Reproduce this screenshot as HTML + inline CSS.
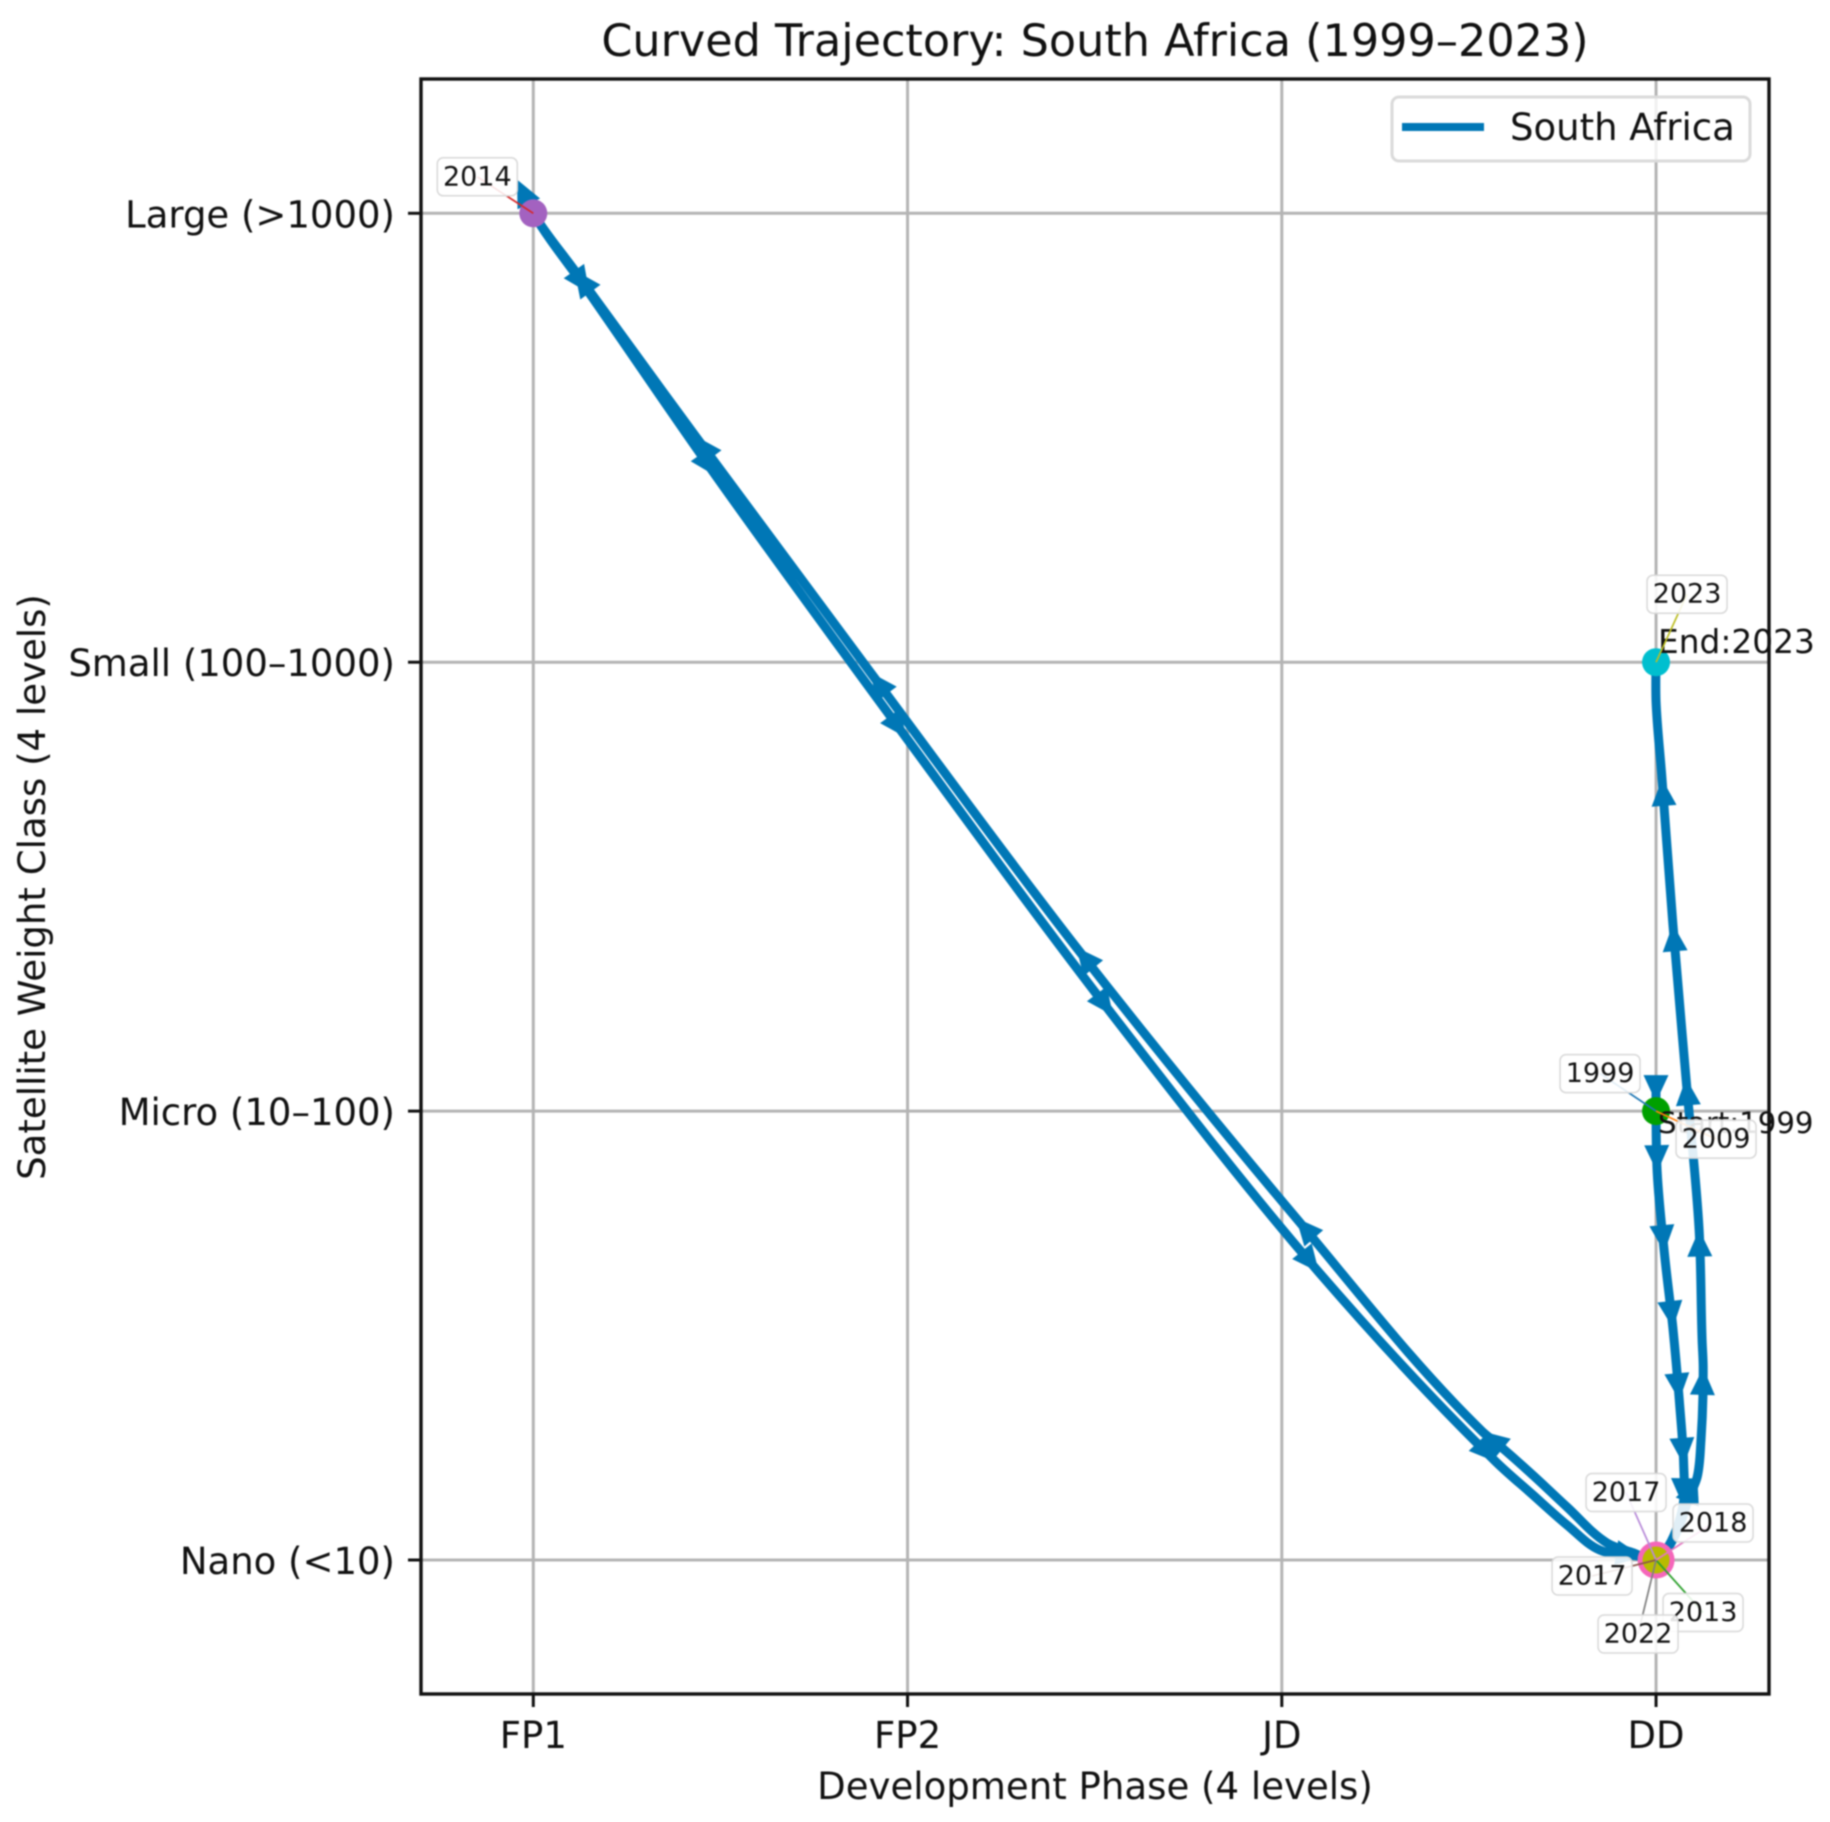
<!DOCTYPE html>
<html lang="en">
<head>
<meta charset="utf-8">
<title>Curved Trajectory: South Africa (1999–2023)</title>
<style>
html,body{margin:0;padding:0;background:#fff;}
body{width:1830px;height:1822px;overflow:hidden;}
svg{display:block;filter:blur(0.8px);}
text{font-family:"DejaVu Sans","Liberation Sans",sans-serif;fill:#111;}
</style>
</head>
<body>
<svg id="chart" xmlns="http://www.w3.org/2000/svg" width="1830" height="1822" viewBox="0 0 1830 1822"></svg>
<script>
// Axis categories
var phaseCategories = ["FP1", "FP2", "JD", "DD"];
var weightCategories = ["Nano (<10)", "Micro (10–100)", "Small (100–1000)", "Large (>1000)"];

// Trajectory, in axis units (phase index, weight-class index)
var curvePhase = [3,3,3,3.003,3.022,3.045,3.062,3.074,3.072,3.032,3,
  2.939,2.869,2.762,2.671,2.583,2.535,2.038,1.451,0.901,0.433,0.11,0,-0.027,0,
  0.15,0.489,0.996,1.549,2.099,2.573,2.671,2.762,2.85,2.965,3,
  3.045,3.091,3.11,3.12,3.126,3.123,3.115,3.08,3.045,3.016,3,3];
var curveWeight = [1.065,1.02,1,0.864,0.686,0.517,0.356,0.212,0.122,0.029,0,
  0.016,0.038,0.118,0.189,0.254,0.287,0.762,1.365,1.977,2.504,2.873,3,3.047,3,
  2.822,2.414,1.832,1.213,0.641,0.218,0.145,0.078,0.022,0.007,0,
  0.045,0.145,0.185,0.267,0.428,0.49,0.736,1.073,1.416,1.74,1.915,2];
// 1 = an arrowhead ends at this curve point, 2 = the arrowhead runs past it
var curveArrow = [0,1,0,1,1,1,1,1,1,0,0,
  0,0,0,0,0,1,1,1,1,1,1,0,2,0,
  1,1,1,1,1,1,0,0,0,1,0,
  0,0,1,0,1,0,1,1,1,1,0,0];

// Annotated years
var yearLabels = ["1999","2009","2013","2014","2017","2017","2018","2022","2023"];
var yearPhase = [3,3,3,0,3,3,3,3,3];
var yearWeight = [1,1,0,3,0,0,0,0,2];
var yearColors = ["#1f77b4","#ff7f0e","#2ca02c","#d62728","#b78ad8","#8c564b","#e377c2","#7f7f7f","#bcbd22"];
// Layout of each label box relative to its point
var labelOffsetX = [-56,60,47,-56,-30,-64,57,-18,31];
var labelOffsetY = [-37.5,28,52.5,-36.5,-67.5,16,-37,74,-68];

// Layout constants
var plotLeft = 421, plotRight = 1769, plotTop = 79, plotBottom = 1694;
var NS = "http://www.w3.org/2000/svg";
var svg = document.getElementById("chart");

function xScale(v){ return 533.3 + v * 374.25; }
function yScale(v){ return 1560 - v * 448.9; }

function make(tag, attrs, parent){
  var el = document.createElementNS(NS, tag);
  for (var k in attrs) el.setAttribute(k, attrs[k]);
  (parent || svg).appendChild(el);
  return el;
}

// Smooth path through the curve points; sharp reversals stay sharp
function curvePath(){
  var P = curvePhase.map(function(p,i){ return [xScale(p), yScale(curveWeight[i])]; });
  function tangent(i){
    if (i === 0 || i === P.length-1) return [0,0];
    var ax = P[i][0]-P[i-1][0], ay = P[i][1]-P[i-1][1];
    var bx = P[i+1][0]-P[i][0], by = P[i+1][1]-P[i][1];
    var la = Math.sqrt(ax*ax+ay*ay)||1, lb = Math.sqrt(bx*bx+by*by)||1;
    ax/=la; ay/=la; bx/=lb; by/=lb;
    if (ax*bx+ay*by < 0.2) return [0,0];
    var tx = ax+bx, ty = ay+by, lt = Math.sqrt(tx*tx+ty*ty)||1;
    return [tx/lt, ty/lt];
  }
  var d = "M"+P[0][0].toFixed(1)+" "+P[0][1].toFixed(1);
  for (var i=0;i<P.length-1;i++){
    var dx = P[i+1][0]-P[i][0], dy = P[i+1][1]-P[i][1];
    var h = Math.sqrt(dx*dx+dy*dy)/3;
    var t0 = tangent(i), t1 = tangent(i+1);
    d += "C"+(P[i][0]+t0[0]*h).toFixed(1)+" "+(P[i][1]+t0[1]*h).toFixed(1)+" "
      +(P[i+1][0]-t1[0]*h).toFixed(1)+" "+(P[i+1][1]-t1[1]*h).toFixed(1)+" "
      +P[i+1][0].toFixed(1)+" "+P[i+1][1].toFixed(1);
  }
  return d;
}

// Plot background
var plotBg = make("rect",{x:plotLeft,y:plotTop,width:plotRight-plotLeft,height:plotBottom-plotTop,fill:"#fff"});



// Grid + ticks + tick labels
phaseCategories.forEach(function(label,i){
  var x = xScale(i);
  var grid = make("line",{x1:x,x2:x,y1:plotTop,y2:plotBottom,stroke:"#b4b4b4","stroke-width":3});
  
  
  var tick = make("line",{x1:x,x2:x,y1:plotBottom,y2:plotBottom+13,stroke:"#111","stroke-width":3});
  
  
  var t = make("text",{x:x,y:1748,"text-anchor":"middle","font-size":37});
  t.textContent = label;
  
  
});
weightCategories.forEach(function(label,i){
  var y = yScale(i);
  var grid = make("line",{x1:plotLeft,x2:plotRight,y1:y,y2:y,stroke:"#b4b4b4","stroke-width":3});
  
  
  var tick = make("line",{x1:plotLeft-13,x2:plotLeft,y1:y,y2:y,stroke:"#111","stroke-width":3});
  
  
  var t = make("text",{x:395,y:y+14,"text-anchor":"end","font-size":37});
  t.textContent = label;
  
  
});

// Trajectory line
var line = make("path",{d:curvePath(),fill:"none",stroke:"#0077b6","stroke-width":9,"stroke-linejoin":"round","stroke-linecap":"butt"});



// Arrowheads
curveArrow.forEach(function(flag,i){
  if (!flag) return;
  var tx = xScale(curvePhase[i]), ty = yScale(curveWeight[i]);
  var px = xScale(curvePhase[i-1]), py = yScale(curveWeight[i-1]);
  var dx = tx-px, dy = ty-py, len = Math.sqrt(dx*dx+dy*dy) || 1;
  dx /= len; dy /= len;
  if (flag === 2) { tx += dx*14; ty += dy*14; }
  var bx = tx-dx*27, by = ty-dy*27;
  var head = make("polygon",{points:[tx,ty,bx-dy*12.5,by+dx*12.5,bx+dy*12.5,by-dx*12.5].map(function(n){return n.toFixed(1);}).join(" "),fill:"#0077b6"});
  
  
});

// Point markers
var ring = make("circle",{cx:xScale(3),cy:yScale(0),r:18.5,fill:"#f566ba"});


var olive = make("circle",{cx:xScale(3),cy:yScale(0),r:13.5,fill:"#b8bb00"});


var purple = make("circle",{cx:xScale(0),cy:yScale(3),r:14,fill:"#a362c0"});


var startDot = make("circle",{cx:xScale(yearPhase[0]),cy:yScale(yearWeight[0]),r:14,fill:"#00a000"});


var endDot = make("circle",{cx:xScale(yearPhase[8]),cy:yScale(yearWeight[8]),r:14,fill:"#00bfcf"});



// Spines
var frame = make("rect",{x:plotLeft,y:plotTop,width:plotRight-plotLeft,height:plotBottom-plotTop,fill:"none",stroke:"#111","stroke-width":3.4});



// Start / end texts
var startText = make("text",{x:xScale(3)+2,y:yScale(1)+22,"font-size":29.2});
startText.textContent = "Start:1999";


var endText = make("text",{x:xScale(3)+2,y:yScale(2)-9,"font-size":32.8});
endText.textContent = "End:2023";



// Year annotations: leader lines then boxes
yearLabels.forEach(function(label,i){
  var x = xScale(yearPhase[i]), y = yScale(yearWeight[i]);
  var cx = x + labelOffsetX[i], cy = y + labelOffsetY[i];
  var leader = make("line",{x1:x,y1:y,x2:cx,y2:cy,stroke:yearColors[i],"stroke-width":1.7});
  
  
});
yearLabels.forEach(function(label,i){
  var x = xScale(yearPhase[i]), y = yScale(yearWeight[i]);
  var cx = x + labelOffsetX[i], cy = y + labelOffsetY[i];
  var box = make("rect",{x:cx-40,y:cy-19,width:80,height:38,rx:6,ry:6,fill:"#fff","fill-opacity":0.88,stroke:"#d8d8d8","stroke-width":1.5});
  
  
  var t = make("text",{x:cx,y:cy+8.5,"text-anchor":"middle","font-size":27});
  t.textContent = label;
  
  
});

// Legend
var legendBox = make("rect",{x:1392,y:97,width:358,height:64,rx:7,ry:7,fill:"#fff","fill-opacity":0.8,stroke:"#dadada","stroke-width":3});


var legendLine = make("line",{x1:1402,x2:1484,y1:127,y2:127,stroke:"#0077b6","stroke-width":8});


var legendText = make("text",{x:1510,y:140,"font-size":37});
legendText.textContent = "South Africa";



// Titles
var title = make("text",{x:1095,y:56,"text-anchor":"middle","font-size":44.5});
title.textContent = "Curved Trajectory: South Africa (1999–2023)";


var xTitle = make("text",{x:1095,y:1799,"text-anchor":"middle","font-size":37.1});
xTitle.textContent = "Development Phase (4 levels)";


var yTitle = make("text",{x:0,y:0,"text-anchor":"middle","font-size":37.1,transform:"translate(45 887) rotate(-90)"});
yTitle.textContent = "Satellite Weight Class (4 levels)";


</script>
</body>
</html>
